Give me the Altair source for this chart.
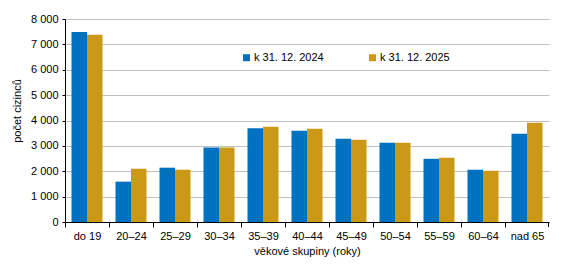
import altair as alt
import pandas as pd

# Foreign residents by age group, two reference dates
groups = ["do 19", "20–24", "25–29", "30–34", "35–39", "40–44",
          "45–49", "50–54", "55–59", "60–64", "nad 65"]
series = ["k 31. 12. 2024", "k 31. 12. 2025"]
values_2024 = [7490, 1590, 2140, 2940, 3690, 3600, 3280, 3120, 2490, 2060, 3480]
values_2025 = [7380, 2100, 2060, 2940, 3750, 3670, 3240, 3120, 2530, 2020, 3910]
y_ticks = [0, 1000, 2000, 3000, 4000, 5000, 6000, 7000, 8000]
colors = ["#0070C0", "#CC9916"]

rows = []
for g, a, b in zip(groups, values_2024, values_2025):
    rows.append({"skupina": g, "obdobi": series[0], "pocet": a})
    rows.append({"skupina": g, "obdobi": series[1], "pocet": b})
df = pd.DataFrame(rows)

W, H = 484, 203
FONT = "Liberation Sans"

bars = alt.Chart(df).mark_bar().encode(
    x=alt.X(
        "skupina:N",
        sort=groups,
        scale=alt.Scale(paddingInner=0, paddingOuter=0),
        axis=alt.Axis(
            title="věkové skupiny (roky)",
            labelAngle=0,
            tickOffset=-W / len(groups) / 2,
            labelOffset=W / len(groups) / 2,
            tickSize=5,
            labelPadding=3,
            titlePadding=4,
            domainColor="#000000",
            tickColor="#000000",
            grid=False,
        ),
    ),
    xOffset=alt.XOffset(
        "obdobi:N",
        sort=series,
        scale=alt.Scale(paddingInner=0, paddingOuter=0.42),
    ),
    y=alt.Y(
        "pocet:Q",
        scale=alt.Scale(domain=[0, 8000], nice=False),
        axis=alt.Axis(
            title="počet cizinců",
            values=y_ticks,
            labelExpr="replace(format(datum.value, ','), ',', ' ')",
            tickSize=3,
            labelPadding=4,
            domainColor="#000000",
            tickColor="#000000",
            gridColor="#C0C0C0",
            titleX=-43,
            titleY=H / 2 - 10,
        ),
    ),
    color=alt.Color(
        "obdobi:N",
        sort=series,
        scale=alt.Scale(domain=series, range=colors),
        legend=alt.Legend(
            title=None,
            orient="none",
            legendX=176,
            legendY=33,
            direction="horizontal",
            symbolType="square",
            symbolSize=49,
            symbolStrokeWidth=0,
            symbolOffset=0,
            labelOffset=2,
            columnPadding=43,
            padding=0,
        ),
    ),
)

# closing tick at the right end of the category axis
end_tick = alt.Chart(pd.DataFrame({"k": [0]})).mark_rule(
    color="#000000", strokeWidth=1
).encode(
    x=alt.value(W - 0.5),
    y=alt.value(H),
    y2=alt.value(H + 5),
)

chart = alt.layer(bars, end_tick).properties(
    width=W,
    height=H,
    padding={"left": 65, "top": 19, "right": 15, "bottom": 56},
    autosize=alt.AutoSizeParams(type="none"),
).configure_view(
    stroke=None
).configure_axis(
    labelFont=FONT,
    titleFont=FONT,
    labelFontSize=11,
    titleFontSize=11,
    labelColor="#000000",
    titleColor="#000000",
    titleFontWeight="normal",
).configure_legend(
    labelFont=FONT,
    labelFontSize=11,
    labelColor="#000000",
)

chart.save("out.html", embed_options={"renderer": "svg", "actions": False})
